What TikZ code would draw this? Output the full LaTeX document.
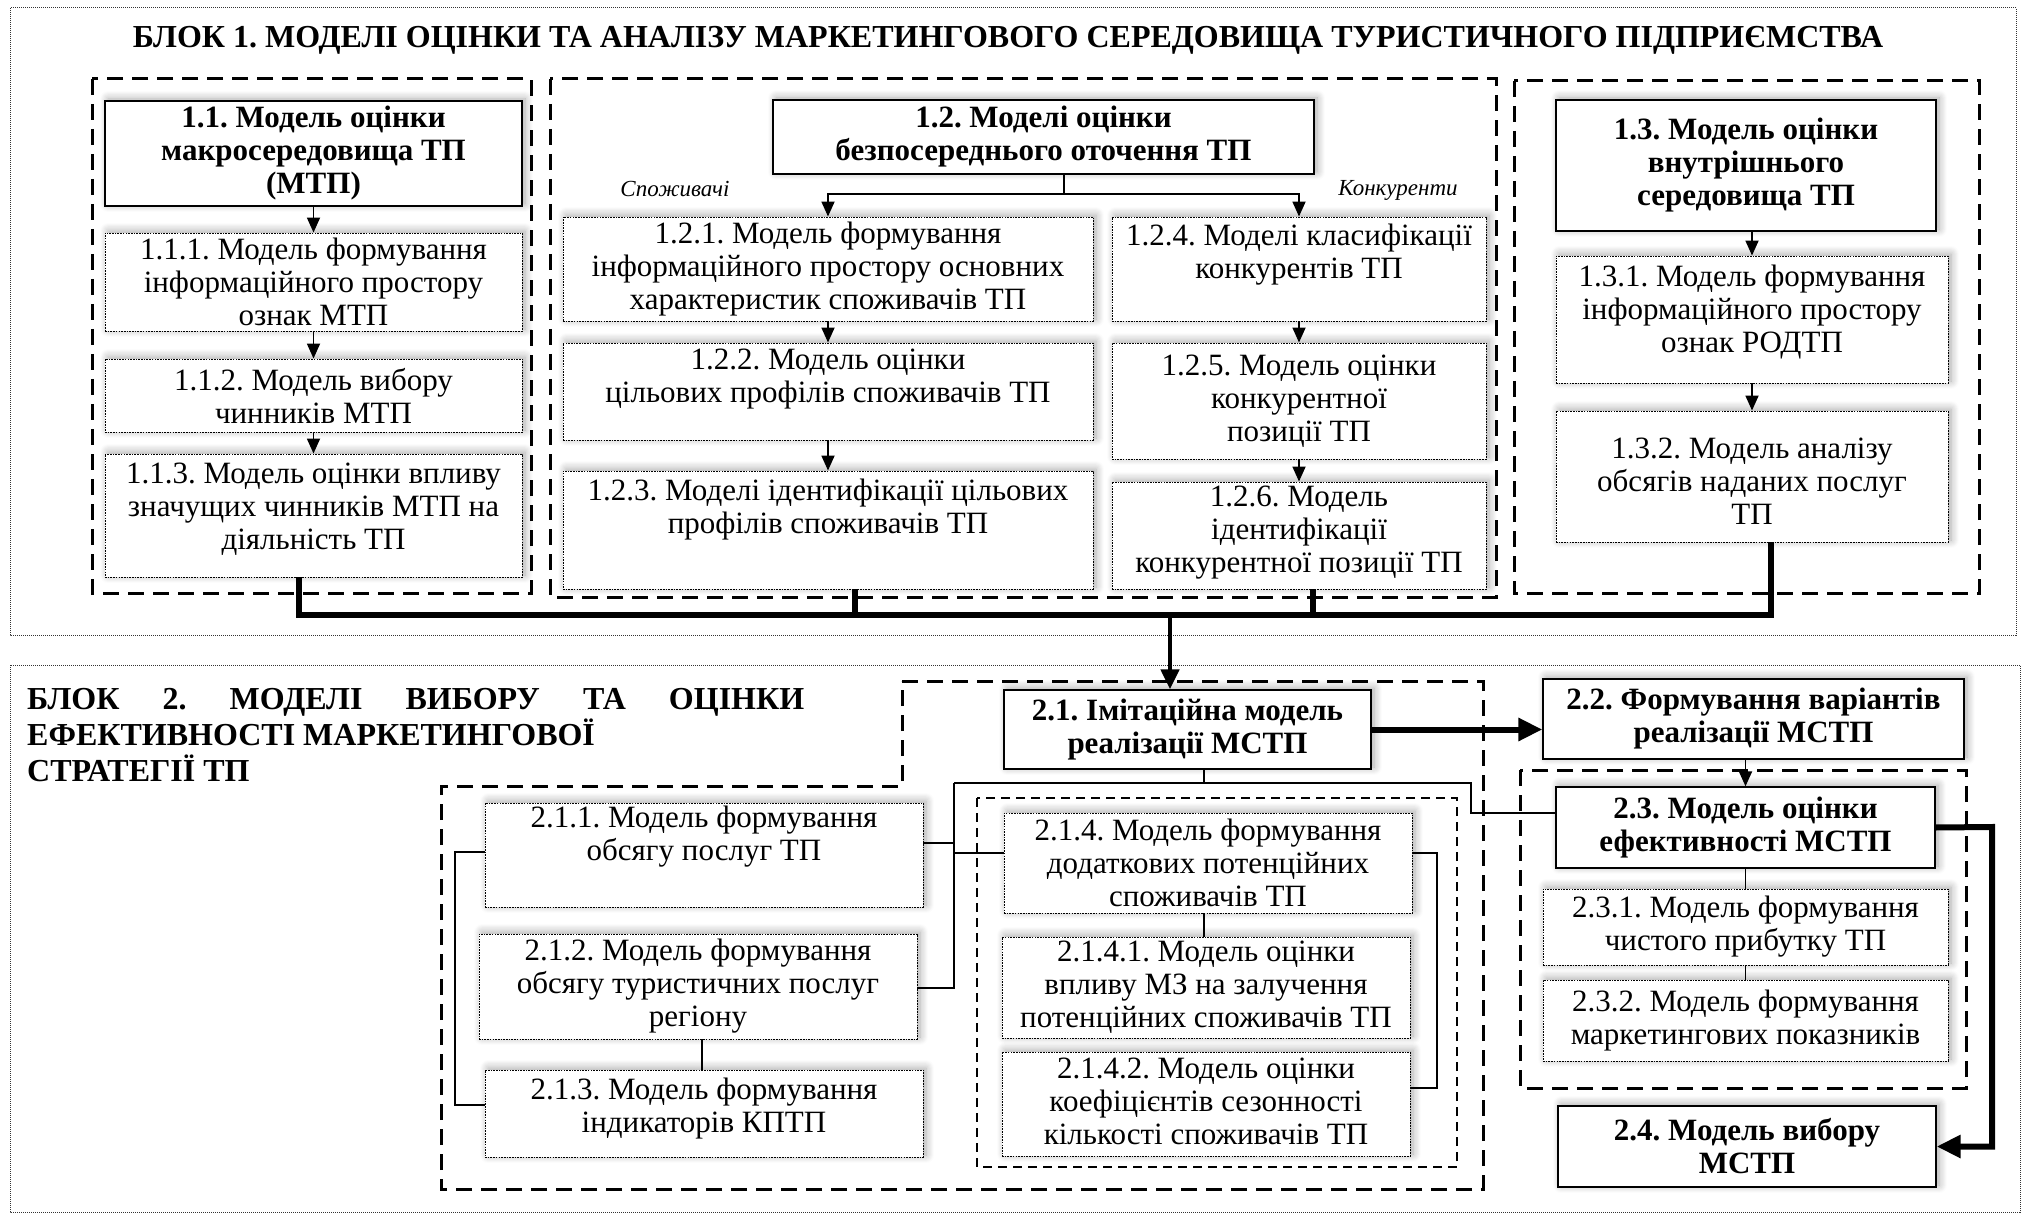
\documentclass[tikz,border=0pt]{standalone}
\usepackage{fontspec}
\setmainfont{Liberation Serif}
\usetikzlibrary{arrows.meta,shadows.blur,calc}
\frenchspacing
\tikzset{
 shd/.style={blur shadow={shadow xshift=3pt, shadow yshift=2pt, shadow blur radius=8pt, shadow blur steps=8, shadow opacity=35}},
 mainbox/.style={draw=black, line width=1.3pt, fill=white, shd},
 subbox/.style={draw=black, line width=0.9pt, dash pattern=on 1.6pt off 1.1pt, fill=white, shd},
 mainboxt/.style={align=center, inner sep=0pt, font=\fontsize{31}{33}\selectfont\bfseries},
 subboxt/.style={align=center, inner sep=0pt, font=\fontsize{31}{33}\selectfont},
 grp/.style={draw=black, line width=3pt, dash pattern=on 16pt off 9pt},
 grpthin/.style={draw=black, line width=2.2pt, dash pattern=on 9pt off 6pt},
 blk/.style={draw=black!80, line width=1pt, dash pattern=on 1pt off 1pt},
 conn/.style={line width=1.8pt},
 arr/.style={conn, -{Triangle[length=15pt,width=13pt]}},
 bus/.style={line width=5.5pt},
 busarr/.style={line width=4.5pt, -{Triangle[length=20pt,width=18pt]}},
 bigarr/.style={line width=6pt, -{Triangle[length=24pt,width=22pt]}},
 lbl/.style={inner sep=2pt, fill=white, font=\fontsize{23}{26}\selectfont\itshape},
 ttl/.style={inner sep=0pt, font=\fontsize{32}{37}\selectfont\bfseries},
}
\newcommand\mkbox[8]{%
 \pgfmathsetmacro\bw{#5-#3}\pgfmathsetmacro\bh{#6-#4}%
 \pgfmathsetmacro\bcx{(#3+#5)/2}\pgfmathsetmacro\bcyy{(#4+#6)/2}%
 \pgfmathsetmacro\bcy{(#4+#6)/2+#7}%
 \node[#2, minimum width=\bw pt, minimum height=\bh pt, inner sep=0pt] (#1) at (\bcx,\bcyy) {};
 \node[#2t] (#1t) at (\bcx,\bcy) {#8};}
\begin{document}
\begin{tikzpicture}[x=1pt,y=-1pt]
\useasboundingbox (0,0) rectangle (2024,1214);
% block frames
\draw[blk] (10,8) rectangle (2016,635);
\draw[blk] (10,665) rectangle (2020,1212);
\node[ttl] (t1) at (1008,40) {БЛОК 1. МОДЕЛІ ОЦІНКИ ТА АНАЛІЗУ МАРКЕТИНГОВОГО СЕРЕДОВИЩА ТУРИСТИЧНОГО ПІДПРИЄМСТВА};
\node[ttl, anchor=north west, align=left, font=\fontsize{32}{36}\selectfont\bfseries] (t2) at (27,688) {\makebox[777pt][s]{БЛОК\hfill 2.\hfill МОДЕЛІ\hfill ВИБОРУ\hfill ТА\hfill ОЦІНКИ}\\ЕФЕКТИВНОСТІ МАРКЕТИНГОВОЇ\\СТРАТЕГІЇ ТП};
% groups
\draw[grp] (92,79) rectangle (531,593);
\draw[grp] (550,79) rectangle (1496,597);
\draw[grp] (1514,81) rectangle (1979,593);
\draw[grp] (902,681) -- (1483,681) -- (1483,1189) -- (441,1189) -- (441,786) -- (902,786) -- cycle;
\draw[grpthin] (977,798) rectangle (1457,1167);
\draw[grp] (1520,770) rectangle (1966,1088);
% block 1 boxes
\mkbox{b11}{mainbox}{105}{101}{522}{206}{0}{1.1. Модель оцінки\\макросередовища ТП\\(МТП)}
\mkbox{b111}{subbox}{105}{233}{522}{331}{0}{1.1.1. Модель формування\\інформаційного простору\\ознак МТП}
\mkbox{b112}{subbox}{105}{359}{522}{432}{0}{1.1.2. Модель вибору\\чинників МТП}
\mkbox{b113}{subbox}{105}{454}{522}{577}{-6}{1.1.3. Модель оцінки впливу\\значущих чинників МТП на\\діяльність ТП}
\mkbox{b12}{mainbox}{773}{100}{1314}{174}{0}{1.2. Моделі оцінки\\безпосереднього оточення ТП}
\mkbox{b121}{subbox}{563}{217}{1093}{321}{0}{1.2.1. Модель формування\\інформаційного простору основних\\характеристик споживачів ТП}
\mkbox{b122}{subbox}{563}{343}{1093}{440}{-12}{1.2.2. Модель оцінки\\цільових профілів споживачів ТП}
\mkbox{b123}{subbox}{563}{471}{1093}{589}{-20}{1.2.3. Моделі ідентифікації цільових\\профілів споживачів ТП}
\mkbox{b124}{subbox}{1112}{217}{1486}{321}{-14}{1.2.4. Моделі класифікації\\конкурентів ТП}
\mkbox{b125}{subbox}{1112}{343}{1486}{459}{0}{1.2.5. Модель оцінки\\конкурентної\\позиції ТП}
\mkbox{b126}{subbox}{1112}{482}{1486}{589}{-3}{1.2.6. Модель\\ідентифікації\\конкурентної позиції ТП}
\mkbox{b13}{mainbox}{1556}{100}{1936}{231}{0}{1.3. Модель оцінки\\внутрішнього\\середовища ТП}
\mkbox{b131}{subbox}{1556}{256}{1948}{383}{-7}{1.3.1. Модель формування\\інформаційного простору\\ознак РОДТП}
\mkbox{b132}{subbox}{1556}{411}{1948}{542}{5}{1.3.2. Модель аналізу\\обсягів наданих послуг\\ТП}
\node[lbl] (lsp) at (675,189) {Споживачі};
\node[lbl] (lkn) at (1398,190) {Конкуренти};
% block 2 boxes
\mkbox{b21}{mainbox}{1004}{690}{1371}{769}{0}{2.1. Імітаційна модель\\реалізації МСТП}
\mkbox{b211}{subbox}{485}{803}{923}{907}{-18}{2.1.1. Модель формування\\обсягу послуг ТП}
\mkbox{b212}{subbox}{479}{934}{917}{1039}{0}{2.1.2. Модель формування\\обсягу туристичних послуг\\регіону}
\mkbox{b213}{subbox}{485}{1070}{923}{1157}{-5}{2.1.3. Модель формування\\індикаторів КПТП}
\mkbox{b214}{subbox}{1004}{813}{1412}{913}{0}{2.1.4. Модель формування\\додаткових потенційних\\споживачів ТП}
\mkbox{b2141}{subbox}{1002}{937}{1410}{1038}{0}{2.1.4.1. Модель оцінки\\впливу МЗ на залучення\\потенційних споживачів ТП}
\mkbox{b2142}{subbox}{1002}{1052}{1410}{1156}{-3}{2.1.4.2. Модель оцінки\\коефіцієнтів сезонності\\кількості споживачів ТП}
\mkbox{b22}{mainbox}{1543}{679}{1964}{759}{0}{2.2. Формування варіантів\\реалізації МСТП}
\mkbox{b23}{mainbox}{1556}{787}{1935}{868}{0}{2.3. Модель оцінки\\ефективності МСТП}
\mkbox{b231}{subbox}{1543}{889}{1948}{965}{0}{2.3.1. Модель формування\\чистого прибутку ТП}
\mkbox{b232}{subbox}{1543}{980}{1948}{1061}{0}{2.3.2. Модель формування\\маркетингових показників}
\mkbox{b24}{mainbox}{1558}{1106}{1936}{1187}{0}{2.4. Модель вибору\\МСТП}
% block 1 connectors
\draw[arr] (b11) -- (b111);
\draw[arr] (b111) -- (b112);
\draw[arr] (b112) -- (b113);
\coordinate (j12) at (1064,194);
\draw[conn] (b12.south -| j12) -- (j12);
\draw[arr] (j12) -| (b121.north);
\draw[arr] (j12) -| (b124.north);
\draw[arr] (b121) -- (b122);
\draw[arr] (b122) -- (b123);
\draw[arr] (b124) -- (b125);
\draw[arr] (b125) -- (b126);
\draw[arr] (b13.south -| b131.north) -- (b131.north);
\draw[arr] (b131) -- (b132);
% bus
\coordinate (bus1) at (299,615);
\coordinate (bus2) at (855,615);
\coordinate (bus3) at (1313,615);
\coordinate (bus4) at (1771,615);
\coordinate (bus0) at (1170,615);
\draw[bus, line join=miter] (b113.south -| bus1) -- (bus1) -- (bus4) -- (b132.south -| bus4);
\draw[bus] (b123.south -| bus2) -- (bus2);
\draw[bus] (b126.south -| bus3) -- (bus3);
\draw[busarr] (bus0) -- (b21.north -| bus0);
% block 2 connectors
\draw[bigarr] (b21.east) -- (b21.east -| b22.west);
\draw[arr] (b22.south -| b23.north) -- (b23.north);
\draw[conn] (b23) -- (b231);
\draw[conn] (b231) -- (b232);
\coordinate (r24) at (1992,827);
\draw[bigarr] (b23.east) -- (r24) |- (b24.east);
\coordinate (t21) at (1204,783);
\coordinate (tL) at (954,783);
\coordinate (tR) at (1471,783);
\coordinate (tR2) at (1471,813);
\draw[conn] (b21.south -| t21) -- (t21);
\draw[conn] (tL) -- (tR) -- (tR2) -- (tR2 -| b23.west);
\coordinate (tB) at (954,988);
\draw[conn] (tL) -- (tB) -- (tB -| b212.east);
\coordinate (c211) at (954,843);
\draw[conn] (c211 -| b211.east) -- (c211);
\coordinate (c214) at (954,853);
\draw[conn] (c214) -- (c214 -| b214.west);
\coordinate (lb1) at (455,852);
\coordinate (lb2) at (455,1105);
\draw[conn] (lb1 -| b211.west) -- (lb1) -- (lb2) -- (lb2 -| b213.west);
\coordinate (m23) at (702,1050);
\draw[conn] (b212.south -| m23) -- (b213.north -| m23);
\draw[conn] (b214.south -| t21) -- (b2141.north -| t21);
\coordinate (rb1) at (1437,853);
\coordinate (rb2) at (1437,1088);
\draw[conn] (rb1 -| b214.east) -- (rb1) -- (rb2) -- (rb2 -| b2142.east);
\end{tikzpicture}
\end{document}
